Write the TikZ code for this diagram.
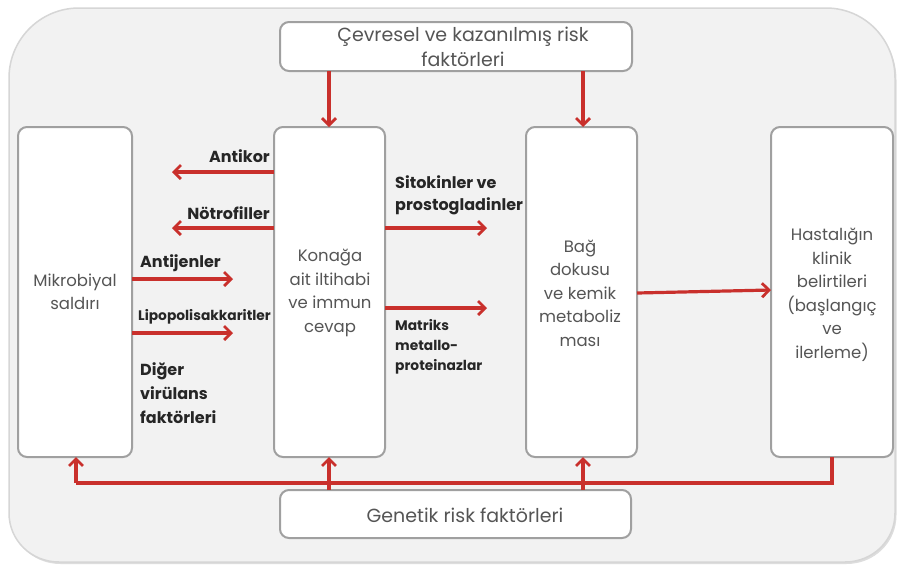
\documentclass[tikz,border=0pt]{standalone}
\usepackage{fontspec}
\setmainfont{Poppins}
\usetikzlibrary{arrows.meta}
\definecolor{bggray}{HTML}{F2F2F2}
\definecolor{bgline}{HTML}{D6D6D6}
\definecolor{bgshadow}{HTML}{DDDDDD}
\definecolor{boxline}{HTML}{A0A0A0}
\definecolor{txtgray}{HTML}{555555}
\definecolor{arrred}{HTML}{C9302C}
\tikzset{
  box/.style={draw=boxline, line width=2pt, fill=white, rounded corners=9pt},
  boxtext/.style={text=txtgray, font=\fontsize{16.5}{23.5}\selectfont, align=center},
  bigtext/.style={text=txtgray, font=\fontsize{19}{25}\selectfont, align=center},
  redarrow/.style={draw=arrred, line width=3.2pt, -{Straight Barb[length=7pt,width=14pt,line width=2.8pt]}},
  redline/.style={draw=arrred, line width=3.2pt},
  lbl/.style={font=\bfseries\fontsize{16}{24}\selectfont, text=black!85, inner sep=0pt},
  smlbl/.style={font=\bfseries\fontsize{13.8}{20}\selectfont, text=black!85, inner sep=0pt},
  bgpath/.style={line width=1.5pt},
}
\begin{document}
\begin{tikzpicture}[x=1pt,y=-1pt]
\useasboundingbox (0,0) rectangle (897,566);
\fill[white] (0,0) rectangle (897,566);
% shadow
\fill[bgshadow, shift={(1.5,2)}] (9,78) .. controls (9,39.3) and (40.3,8) .. (79,8) -- (826,8)
  .. controls (864.7,8) and (895,39.3) .. (895,78) -- (895,513)
  .. controls (895,540.6) and (872.6,562) .. (845,562) -- (59,562)
  .. controls (31.4,562) and (9,540.6) .. (9,513) -- cycle;
% background
\draw[bgline, bgpath, fill=bggray] (9,78) .. controls (9,39.3) and (40.3,8) .. (79,8) -- (826,8)
  .. controls (864.7,8) and (895,39.3) .. (895,78) -- (895,513)
  .. controls (895,540.6) and (872.6,562) .. (845,562) -- (59,562)
  .. controls (31.4,562) and (9,540.6) .. (9,513) -- cycle;

% boxes
\draw[box] (280,22) rectangle (632,71);
\node[bigtext] (toptxt) at (463,47) {Çevresel ve kazanılmış risk\\faktörleri};

\draw[box] (18,127) rectangle (132,457);
\node[boxtext] (mik) at (75,292) {Mikrobiyal\\saldırı};

\draw[box] (274,127) rectangle (385,457);
\node[boxtext] (kon) at (330,293) {Konağa\\ait iltihabi\\ve immun\\cevap};

\draw[box] (526,127) rectangle (637,457);
\node[boxtext] (bag) at (580,293) {Bağ\\dokusu\\ve kemik\\metaboliz\\ması};

\draw[box] (771,127) rectangle (893,457);
\node[boxtext] (has) at (832,295) {Hastalığın\\klinik\\belirtileri\\(başlangıç\\ve\\ilerleme)};

\draw[box] (280,490) rectangle (631,538);
\node[bigtext] (gen) at (465,515) {Genetik risk faktörleri};

% named coordinates
\coordinate (t1) at (329,71);  \coordinate (t1e) at (329,127);
\coordinate (t2) at (583,71);  \coordinate (t2e) at (583,127);

\draw[redarrow] (t1) -- (t1e);
\draw[redarrow] (t2) -- (t2e);

% left side
\coordinate (a1s) at (274,172); \coordinate (a1e) at (172,172);
\coordinate (a2s) at (274,228); \coordinate (a2e) at (172,228);
\coordinate (a3s) at (132,279); \coordinate (a3e) at (233,279);
\coordinate (a4s) at (132,333); \coordinate (a4e) at (233,333);
\draw[redarrow] (a1s) -- (a1e);
\draw[redarrow] (a2s) -- (a2e);
\draw[redarrow] (a3s) -- (a3e);
\draw[redarrow] (a4s) -- (a4e);
\node[lbl, anchor=east] (antikor) at (270,156) {Antikor};
\node[lbl, anchor=east] (notro) at (270,213) {Nötrofiller};
\node[lbl, anchor=west] (antij) at (140,263) {Antijenler};
\node[smlbl, anchor=west] (lipo) at (138,317) {Lipopolisakkaritler};
\node[lbl, anchor=north west, align=left] (diger) at (140,362) {Diğer\\virülans\\faktörleri};

% right side of Konaga
\coordinate (s1s) at (385,228); \coordinate (s1e) at (487,228);
\coordinate (s2s) at (385,308); \coordinate (s2e) at (487,308);
\draw[redarrow] (s1s) -- (s1e);
\draw[redarrow] (s2s) -- (s2e);
\node[lbl, anchor=north west, align=left, font=\bfseries\fontsize{16}{22}\selectfont] (sito) at (395,175) {Sitokinler ve\\prostogladinler};
\node[smlbl, anchor=north west, align=left] (matr) at (395,319) {Matriks\\metallo-\\proteinazlar};

% Bag -> Hastalik
\coordinate (b1) at (637,293); \coordinate (b2) at (771,290);
\draw[redarrow] (b1) -- (b2);

% bottom genetic
\coordinate (g1) at (76,483);
\coordinate (g4) at (832,483);
\coordinate (g4t) at (832,457);
\coordinate (m1) at (76,457);
\coordinate (gs2) at (329,490); \coordinate (m2) at (329,457);
\coordinate (gs3) at (583,490); \coordinate (m3) at (583,457);
\draw[redline] (g4t) -- (g4) -- (g1);
\draw[redarrow] (g1) -- (m1);
\draw[redarrow] (gs2) -- (m2);
\draw[redarrow] (gs3) -- (m3);
\end{tikzpicture}
\end{document}
